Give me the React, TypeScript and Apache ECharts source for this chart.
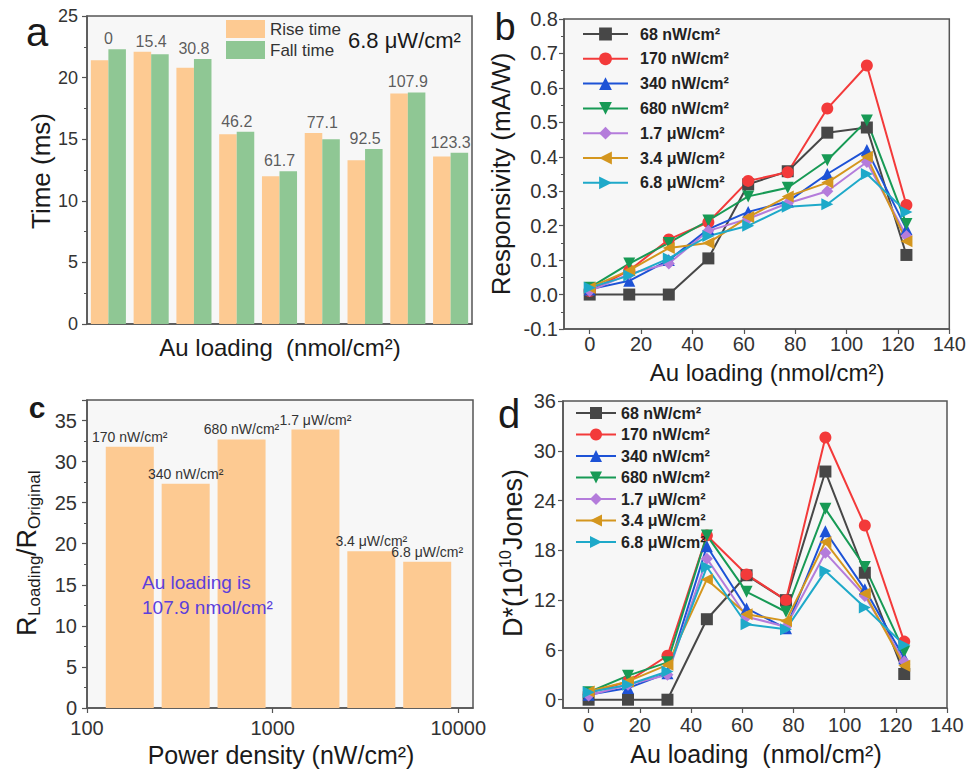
import React, { useEffect, useRef } from 'react';
import * as echarts from 'echarts';

// ---------- data ----------
const auLoading = [0, 15.4, 30.8, 46.2, 61.7, 77.1, 92.5, 107.9, 123.3];
const auLoadingLabels = ['0', '15.4', '30.8', '46.2', '61.7', '77.1', '92.5', '107.9', '123.3'];
const riseTime = [21.4, 22.1, 20.8, 15.4, 12.0, 15.5, 13.3, 18.7, 13.6];
const fallTime = [22.3, 21.9, 21.5, 15.6, 12.4, 15.0, 14.2, 18.8, 13.9];

const powerNames = ['68 nW/cm²', '170 nW/cm²', '340 nW/cm²', '680 nW/cm²', '1.7 μW/cm²', '3.4 μW/cm²', '6.8 μW/cm²'];

const resp68 = [0, 0, 0, 0.105, 0.32, 0.358, 0.47, 0.485, 0.115];
const resp170 = [0.01, 0.07, 0.16, 0.21, 0.33, 0.355, 0.54, 0.665, 0.26];
const resp340 = [0.015, 0.04, 0.1, 0.19, 0.24, 0.27, 0.35, 0.42, 0.19];
const resp680 = [0.02, 0.09, 0.15, 0.215, 0.285, 0.31, 0.39, 0.505, 0.205];
const resp1700 = [0.01, 0.06, 0.09, 0.185, 0.22, 0.265, 0.3, 0.385, 0.17];
const resp3400 = [0.02, 0.07, 0.135, 0.15, 0.225, 0.285, 0.325, 0.4, 0.155];
const resp6800 = [0.02, 0.055, 0.105, 0.17, 0.2, 0.255, 0.262, 0.35, 0.24];
const responsivitySeries = [resp68, resp170, resp340, resp680, resp1700, resp3400, resp6800];

const det68 = [0, 0, 0, 9.7, 15.0, 12.0, 27.5, 15.3, 3.1];
const det170 = [0.8, 2.2, 5.3, 19.8, 15.1, 12.0, 31.6, 21.0, 7.0];
const det340 = [0.6, 1.4, 3.2, 18.5, 11.0, 8.6, 20.3, 13.3, 5.0];
const det680 = [0.9, 2.9, 4.5, 19.8, 13.0, 10.6, 23.0, 16.0, 5.8];
const det1700 = [0.5, 1.8, 3.0, 17.0, 10.0, 8.8, 17.7, 12.5, 4.6];
const det3400 = [1.0, 2.2, 4.2, 14.5, 10.3, 9.5, 19.0, 12.8, 4.1];
const det6800 = [0.9, 1.8, 3.4, 16.0, 9.1, 8.5, 15.5, 11.1, 6.6];
const detectivitySeries = [det68, det170, det340, det680, det1700, det3400, det6800];

const powerDensity = [170, 340, 680, 1700, 3400, 6800];
const ratioValues = [31.8, 27.3, 32.7, 33.9, 19.1, 17.8];
const ratioLabels = ['170 nW/cm²', '340 nW/cm²', '680 nW/cm²', '1.7 μW/cm²', '3.4 μW/cm²', '6.8 μW/cm²'];

const loadingTicks = [0, 20, 40, 60, 80, 100, 120, 140];
const detTicks = [0, 6, 12, 18, 24, 30, 36];

// ---------- styles ----------
const FONT = '"Liberation Sans", Arial, Helvetica, sans-serif';
const lineColors = ['#474747', '#f33a3a', '#1d52d6', '#179a55', '#b47cdb', '#d4961e', '#1ea9c9'];
const lineSymbols = ['rect', 'circle', 'triangle', 'triangle', 'diamond', 'triangle', 'triangle'];
const lineSymbolRotate = [0, 0, 0, 180, 0, 90, -90];
const ORANGE = '#fdca92';
const GREEN = '#8fc794';
const AXIS = '#555';

const axisLine = { show: true, onZero: false, lineStyle: { color: AXIS, width: 1.5 } };
const tick = (extra: any = {}) => ({ show: true, inside: false, length: 5, lineStyle: { color: AXIS, width: 1.2 }, ...extra });
const minor = { show: true, splitNumber: 2, length: 3, lineStyle: { color: AXIS, width: 1 } };
const label = (fontSize: number, margin: number, extra: any = {}) => ({
  fontSize, margin, color: '#333', fontFamily: FONT, ...extra,
});
const gridBase = { show: true, backgroundColor: '#f7f7f7', borderColor: AXIS, borderWidth: 1.5 };

const txt = (text: string, x: number, y: number, fontSize: number, extra: any = {}, elExtra: any = {}) => ({
  type: 'text',
  x, y, z: 100,
  ...elExtra,
  style: {
    text, fontSize, fontFamily: FONT, fill: '#1a1a1a',
    align: 'center', verticalAlign: 'middle', ...extra,
  },
});

export default function App() {
  const ref = useRef<HTMLDivElement>(null);

  useEffect(() => {
    document.body.style.margin = '0';
    if (!ref.current) return;
    const chart = echarts.init(ref.current, undefined, { renderer: 'svg' });

    const lineSeries = (data: number[][], xi: number, yi: number) =>
      powerNames.map((name, i) => ({
        type: 'line',
        name,
        xAxisIndex: xi,
        yAxisIndex: yi,
        data: auLoading.map((x, j) => [x, data[i][j]]),
        symbol: lineSymbols[i],
        symbolRotate: lineSymbolRotate[i],
        symbolSize: 12,
        lineStyle: { color: lineColors[i], width: 2 },
        itemStyle: { color: lineColors[i] },
      }));

    const option: any = {
      animation: false,
      grid: [
        { ...gridBase, left: 87, top: 16, width: 385, height: 308 },
        { ...gridBase, left: 564, top: 19, width: 387, height: 310 },
        { ...gridBase, left: 87, top: 400, width: 386, height: 308 },
        { ...gridBase, left: 563, top: 401, width: 384, height: 307 },
      ],
      xAxis: [
        {
          type: 'category', gridIndex: 0, data: auLoadingLabels,
          axisLabel: { show: false }, axisTick: { show: false }, axisLine, splitLine: { show: false },
        },
        {
          type: 'value', gridIndex: 1, min: -10, max: 140,
          axisLabel: label(20, 5, { customValues: loadingTicks }),
          axisTick: tick({ customValues: loadingTicks }), axisLine, splitLine: { show: false },
        },
        {
          type: 'log', gridIndex: 2, min: 100, max: 12000, logBase: 10,
          axisLabel: label(20, 10, { showMaxLabel: false, formatter: (v: number) => String(Math.round(v)) }),
          axisTick: tick(), axisLine, splitLine: { show: false },
        },
        {
          type: 'value', gridIndex: 3, min: -10, max: 140,
          axisLabel: label(20, 7, { customValues: loadingTicks }),
          axisTick: tick({ customValues: loadingTicks }), axisLine, splitLine: { show: false },
        },
      ],
      yAxis: [
        {
          type: 'value', gridIndex: 0, min: 0, max: 25, interval: 5,
          axisLabel: label(18, 9), axisTick: tick(), minorTick: minor, axisLine, splitLine: { show: false },
        },
        {
          type: 'value', gridIndex: 1, min: -0.1, max: 0.8, interval: 0.1,
          axisLabel: label(20, 6, { formatter: (v: number) => v.toFixed(1) }),
          axisTick: tick(), minorTick: minor, axisLine, splitLine: { show: false },
        },
        {
          type: 'value', gridIndex: 2, min: 0, max: 37.5, interval: 5,
          axisLabel: label(20, 10, { showMaxLabel: false }),
          axisTick: tick(), minorTick: minor, axisLine, splitLine: { show: false },
        },
        {
          type: 'value', gridIndex: 3, min: -1, max: 36,
          axisLabel: label(20, 7, { customValues: detTicks }),
          axisTick: tick({ customValues: detTicks }), axisLine, splitLine: { show: false },
        },
      ],
      legend: [
        {
          data: ['Rise time', 'Fall time'], left: 226, top: 20, orient: 'vertical',
          itemWidth: 39, itemHeight: 18, itemGap: 3, icon: 'rect', padding: 0,
          textStyle: { fontSize: 17, color: '#333', fontFamily: FONT },
        },
        {
          data: powerNames, left: 582, top: 26, orient: 'vertical',
          itemWidth: 45, itemHeight: 16, itemGap: 8.8, padding: 0,
          textStyle: { fontSize: 16, fontWeight: 'bold', color: '#222', fontFamily: FONT, padding: [0, 0, 0, 7] },
        },
        {
          data: powerNames, left: 575, top: 405, orient: 'vertical',
          itemWidth: 40, itemHeight: 15, itemGap: 5.5, padding: 0,
          textStyle: { fontSize: 16, fontWeight: 'bold', color: '#222', fontFamily: FONT },
        },
      ],
      series: [
        {
          type: 'bar', name: 'Rise time', xAxisIndex: 0, yAxisIndex: 0, data: riseTime,
          itemStyle: { color: ORANGE }, barGap: '0%', barCategoryGap: '18%',
        },
        {
          type: 'bar', name: 'Fall time', xAxisIndex: 0, yAxisIndex: 0, data: fallTime,
          itemStyle: { color: GREEN }, barGap: '0%', barCategoryGap: '18%',
        },
        {
          type: 'scatter', name: 'loading labels', xAxisIndex: 0, yAxisIndex: 0,
          data: riseTime.map((v, i) => Math.max(v, fallTime[i])),
          symbolSize: 1, itemStyle: { color: 'rgba(0,0,0,0)' }, silent: true, z: 5,
          label: {
            show: true, position: 'top', distance: 2,
            formatter: (p: any) => auLoadingLabels[p.dataIndex],
            fontSize: 16, color: '#333', fontFamily: FONT,
          },
        },
        ...lineSeries(responsivitySeries, 1, 1),
        {
          type: 'bar', name: 'ratio', xAxisIndex: 2, yAxisIndex: 2,
          data: powerDensity.map((p, i) => [p, ratioValues[i]]),
          barWidth: 48, itemStyle: { color: ORANGE },
          label: {
            show: true, position: 'top', distance: 3,
            formatter: (p: any) => ratioLabels[p.dataIndex],
            fontSize: 14, color: '#333', fontFamily: FONT,
          },
        },
        ...lineSeries(detectivitySeries, 3, 3),
      ],
      graphic: [
        // panel letters
        txt('a', 37, 32, 40),
        txt('b', 505, 27, 38),
        txt('c', 37, 407, 30, { fontWeight: 'bold' }),
        txt('d', 509, 414, 40),
        // panel a
        txt('6.8 μW/cm²', 348, 40, 22, { align: 'left' }),
        txt('Time (ms)', 41, 171, 26, {}, { rotation: Math.PI / 2 }),
        txt('Au loading  (nmol/cm²)', 280, 347, 24),
        // panel b
        txt('Responsivity (mA/W)', 501, 174, 26, {}, { rotation: Math.PI / 2 }),
        txt('Au loading (nmol/cm²)', 767, 372, 24),
        // panel c
        {
          type: 'group', x: 27, y: 554, rotation: Math.PI / 2, z: 100,
          children: [
            txt('R', -82, 0, 27, { align: 'left' }),
            txt('Loading', -62, 7, 17, { align: 'left' }),
            txt('/R', -2, 0, 27, { align: 'left' }),
            txt('Original', 25, 7, 17, { align: 'left' }),
          ],
        },
        txt('Power density (nW/cm²)', 281, 755, 25),
        txt('Au loading is', 142, 582, 19, { align: 'left', fill: '#5b3fdc' }),
        txt('107.9 nmol/cm²', 142, 607, 19, { align: 'left', fill: '#5b3fdc' }),
        // panel d
        {
          type: 'group', x: 513, y: 553, rotation: Math.PI / 2, z: 100,
          children: [
            txt('D*(10', -84, 0, 27, { align: 'left' }),
            txt('10', -15, -8, 16, { align: 'left' }),
            txt('Jones)', 3, 0, 27, { align: 'left' }),
          ],
        },
        txt('Au loading  (nmol/cm²)', 756, 754, 25),
      ],
    };

    chart.setOption(option);
    return () => chart.dispose();
  }, []);

  return <div ref={ref} style={{ width: 969, height: 769 }} />;
}
